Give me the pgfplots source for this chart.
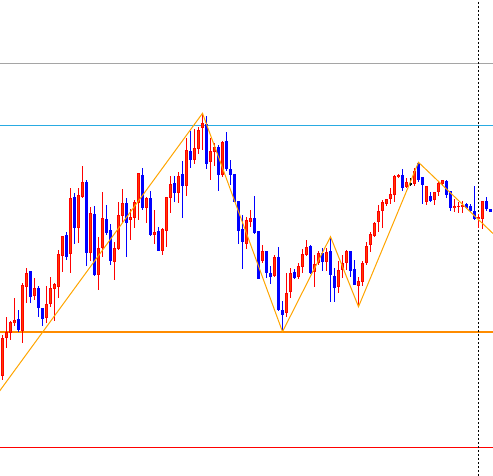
\documentclass[border=0pt]{standalone}
\usepackage{pgfplots}
\usepackage{pgfplotstable}
\pgfplotsset{compat=1.18}
\definecolor{redfill}{RGB}{255,60,0}
\definecolor{zz}{RGB}{255,165,0}
\definecolor{hor}{RGB}{255,140,0}
\definecolor{cy}{RGB}{41,171,226}
\definecolor{gr}{RGB}{165,165,165}
\pgfplotstableread{
i hi lo bt bb
0 335 380 338.3 376
1 317.3 347.7 332 337.7
2 320.7 340 322 332.7
3 298 326 320 323.3
5 283.3 342.7 285 331
6 267.7 302.7 273.3 286.7
8 278.3 300 288 295.7
11 286 323.3 304 317.7
12 276.7 306.7 288 304
13 282.7 320.7 284 288.7
14 250 297.7 254 286.7
15 236 272 236 255.7
17 188 273.3 197.7 254.3
19 188 242.7 194.7 227.7
20 166 197.7 182.3 196.7
22 207.3 260.7 213.3 252.7
24 236.7 290 248.3 274.7
25 192.3 256.7 218.3 248.3
28 242.3 280 248.3 261.7
29 202.3 250 215.3 249.3
30 189 223.3 203.3 216
32 209.3 240 216.7 220
33 200 228.3 202.3 218.3
34 172.7 220 173.3 202.7
36 197.3 223.3 198 207.7
38 210 244 232 234.7
40 228.3 255 229 250.7
41 197.3 246.7 197.3 230.7
42 176 212.7 184.3 197.7
44 171.7 203.3 176 192.7
46 138.3 195.7 150 185.7
48 129 164.3 148.3 160
49 126.7 154 130 149.3
50 113.3 150 123.3 128.3
52 137.7 180 151 162.3
53 143.3 166 147.3 151.7
55 141 176.7 141.7 175
61 216.7 249 220 244
62 210 226.7 218.3 222
65 245 262.7 251 261
68 255 276.7 257.3 276
71 273.3 316.7 293.3 313.3
72 268.3 298.3 273.3 291.7
74 263.3 279 266 276.7
75 249.3 273.3 254 266.7
76 240 255.7 246.7 254.7
78 255 286.7 264 271.7
79 250.7 265 252.7 262.7
81 248.3 271 251.7 261.7
84 261 293.3 270 286.7
85 255 278.3 263.3 270
86 250 270 251 263.3
89 276.7 306.7 281 285.7
90 261 285.7 263.3 281.7
91 242.3 265 246 263.3
92 232.3 251.7 234 245
93 221.7 236.7 222.7 235.7
94 205 231.7 211 221.7
95 200 227.7 202.3 211
96 199 205.7 199 204
97 188.3 204 194 199
98 175 201.7 175.7 195
99 174.3 178.3 175 177.3
101 177.7 188.3 181.7 187
103 168.3 186 170.7 184
106 185.7 205 185.7 202.3
108 191.7 205 192.3 200
109 181.7 195.7 182.7 192.3
110 180 185.7 180 184.3
113 199.3 211.7 205.7 208.3
114 201.7 212.7 205.7 207.3
115 200.7 213.3 205 207.3
119 214.3 227.7 216.7 219.3
120 201 229 201 219.3
}\redtab
\pgfplotstableread{
i hi lo bt bb
4 310 331.7 319 330
7 271 302.7 271 296.7
9 286 316.7 288 307.7
10 308.3 325.7 308.3 319
16 232 259.7 235 256.7
18 193.3 243.7 196.7 227.7
21 180 265.7 182 252.7
23 206 275.7 214 275
26 205 235.3 219 232.7
27 224 265.3 230 260.7
31 198.3 256.7 202.7 222.7
35 168.3 210 175.3 207.7
37 191 235.7 197.7 235
39 226.7 250.7 230.7 250.7
43 176 201.7 183.3 192.7
45 161 218.3 174.3 185.7
47 131 167.7 151 160
51 116 169 124.3 164
54 145 191 147.3 175
56 132.3 170.7 141 169
57 160 185 169 175
58 174 201.7 174 201.7
59 201 244 201 230.7
60 215 269 229 241.7
63 196 234 218.3 232.7
64 231 279 231 279
66 251 277.7 251 272.7
67 266 284.3 273.3 276.7
69 247.3 310.7 257.3 310
70 301 331.7 310 315
73 269 279 272.3 277.7
77 245 274.3 246 272.7
80 248.3 271 253.3 262.3
82 236.7 302.3 251 275
83 268.3 302.3 275.7 288.3
87 251 276.7 251 270.7
88 260 285 269 285
100 169 191 175 188.3
104 162.3 181.7 163.3 180
105 176.7 204.3 176.7 185
107 192.3 201.7 195.7 200.7
111 180 198.3 180.7 195
112 191 211 191 208.3
116 203.3 209 204.3 207.7
117 204.3 212.3 205.7 211
118 186 220 210.7 219.3
121 196.7 211 201 209
122 209 211.7 209 211.7
}\bluetab
\pgfplotstableread{
i hi lo bt bb
102 177.7 185.7 183 184.7
}\blacktab
\begin{document}
\begin{tikzpicture}
\begin{axis}[width=493pt,height=476pt,scale only axis,
  xmin=0,xmax=493,ymin=0,ymax=476,y dir=reverse,hide axis,clip=true]
% reference lines
\addplot[gr, line width=1pt] coordinates {(0,63.5) (493,63.5)};
\addplot[cy, line width=1pt] coordinates {(0,125.5) (493,125.5)};
\addplot[hor, line width=2pt] coordinates {(0,332) (493,332)};
\addplot[red, line width=1pt] coordinates {(0,447.5) (493,447.5)};
\addplot[black, line width=1pt, dash pattern=on 2pt off 2pt] coordinates {(478.5,2) (478.5,476)};
% wicks
\addplot[draw=none, mark=none, error bars/.cd, y dir=both, y explicit, error mark=none,
  error bar style={draw=red, line width=1pt}]
  table[x expr=2.5+4*\thisrow{i}, y expr={(\thisrow{hi}+\thisrow{lo})/2}, y error expr={(\thisrow{lo}-\thisrow{hi})/2}] {\redtab};
\addplot[draw=none, mark=none, error bars/.cd, y dir=both, y explicit, error mark=none,
  error bar style={draw=blue, line width=1pt}]
  table[x expr=2.5+4*\thisrow{i}, y expr={(\thisrow{hi}+\thisrow{lo})/2}, y error expr={(\thisrow{lo}-\thisrow{hi})/2}] {\bluetab};
\addplot[draw=none, mark=none, error bars/.cd, y dir=both, y explicit, error mark=none,
  error bar style={draw=black, line width=1pt}]
  table[x expr=2.5+4*\thisrow{i}, y expr={(\thisrow{hi}+\thisrow{lo})/2}, y error expr={(\thisrow{lo}-\thisrow{hi})/2}] {\blacktab};
% bodies
\addplot[draw=none, mark=none, error bars/.cd, y dir=both, y explicit, error mark=none,
  error bar style={draw=red, line width=3pt}]
  table[x expr=2.5+4*\thisrow{i}, y expr={(\thisrow{bt}+\thisrow{bb})/2}, y error expr={max((\thisrow{bb}-\thisrow{bt})/2,0.6)}] {\redtab};
\addplot[draw=none, mark=none, error bars/.cd, y dir=both, y explicit, error mark=none,
  error bar style={draw=redfill, line width=1pt}]
  table[x expr=2.5+4*\thisrow{i}, y expr={(\thisrow{bt}+\thisrow{bb})/2}, y error expr={max((\thisrow{bb}-\thisrow{bt})/2-1,0)}] {\redtab};
\addplot[draw=none, mark=none, error bars/.cd, y dir=both, y explicit, error mark=none,
  error bar style={draw=blue, line width=3pt}]
  table[x expr=2.5+4*\thisrow{i}, y expr={(\thisrow{bt}+\thisrow{bb})/2}, y error expr={max((\thisrow{bb}-\thisrow{bt})/2,0.6)}] {\bluetab};
\addplot[draw=none, mark=none, error bars/.cd, y dir=both, y explicit, error mark=none,
  error bar style={draw=black, line width=3pt}]
  table[x expr=2.5+4*\thisrow{i}, y expr={(\thisrow{bt}+\thisrow{bb})/2}, y error expr={max((\thisrow{bb}-\thisrow{bt})/2,0.6)}] {\blacktab};
% zigzag
\addplot[zz, line width=1pt] coordinates {(-5,397.3) (202.5,113.3) (282.5,331.7) (330.5,236.7) (358.5,306.7) (418.5,162.3) (493,233.5)};
\end{axis}
\path (current axis.south west) rectangle (current axis.north east);
\end{tikzpicture}
\end{document}
